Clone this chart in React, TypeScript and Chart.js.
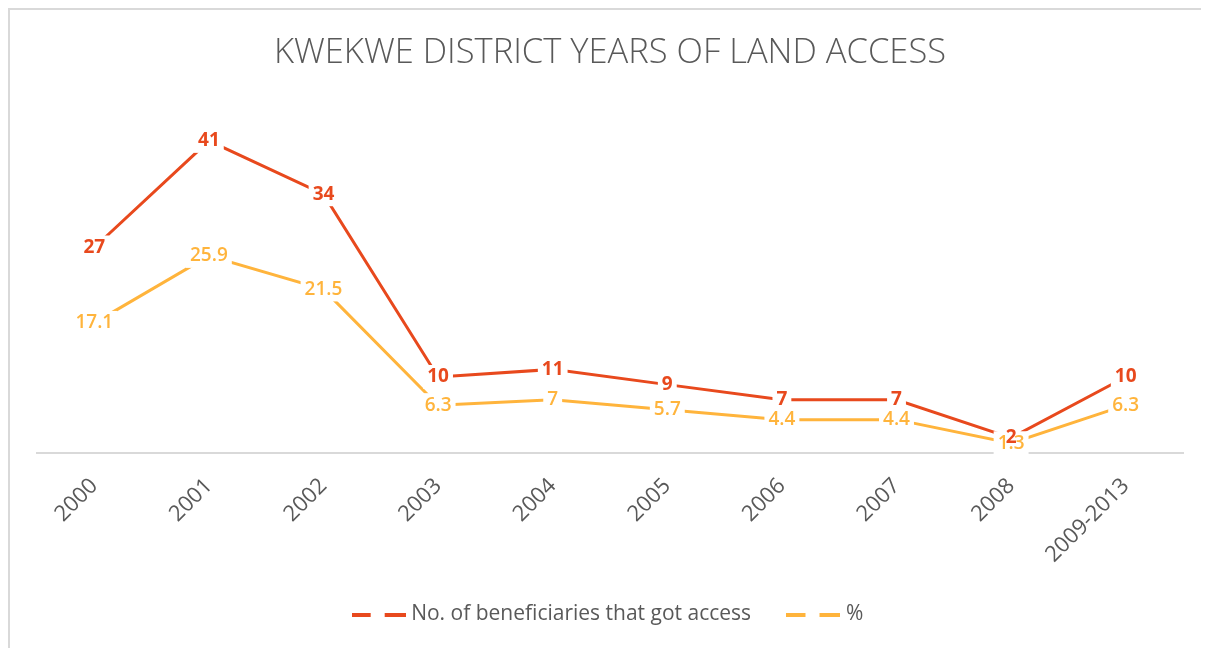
import React, { useEffect, useRef } from "react";
import { Chart, registerables } from "chart.js";

Chart.register(...registerables);

const categories = ["2000", "2001", "2002", "2003", "2004", "2005", "2006", "2007", "2008", "2009-2013"];
const beneficiaries = [27, 41, 34, 10, 11, 9, 7, 7, 2, 10];
const percent = [17.1, 25.9, 21.5, 6.3, 7, 5.7, 4.4, 4.4, 1.3, 6.3];

const RED = "#E8491D";
const ORANGE = "#FFB43C";
const GRAY = "#595959";
const FONT = "'Open Sans', sans-serif";

function legendIcon(color: string): HTMLCanvasElement {
  const c = document.createElement("canvas");
  c.width = 54;
  c.height = 4;
  const ctx = c.getContext("2d")!;
  ctx.fillStyle = color;
  ctx.fillRect(0, 0, 19, 4);
  ctx.fillRect(33, 0, 21, 4);
  return c;
}

const labelPlugin = {
  id: "valueLabels",
  afterDatasetsDraw(chart: any) {
    const ctx = chart.ctx;
    const fonts = ["bold 19px " + FONT, "600 19px " + FONT];
    ctx.save();
    ctx.textAlign = "center";
    ctx.textBaseline = "middle";
    chart.data.datasets.forEach((ds: any, di: number) => {
      const meta = chart.getDatasetMeta(di);
      ctx.font = fonts[di];
      meta.data.forEach((pt: any, i: number) => {
        const txt = String(ds.data[i]);
        const w = ctx.measureText(txt).width;
        ctx.fillStyle = "#ffffff";
        ctx.fillRect(pt.x - w / 2 - 4, pt.y - 12, w + 8, 24);
      });
    });
    for (let di = chart.data.datasets.length - 1; di >= 0; di--) {
      const ds = chart.data.datasets[di];
      const meta = chart.getDatasetMeta(di);
      ctx.font = fonts[di];
      meta.data.forEach((pt: any, i: number) => {
        ctx.fillStyle = ds.borderColor;
        ctx.fillText(String(ds.data[i]), pt.x, pt.y);
      });
    }
    ctx.restore();
  },
};

export default function App() {
  const ref = useRef<HTMLCanvasElement | null>(null);
  useEffect(() => {
    if (!ref.current) return;
    const chart = new Chart(ref.current, {
      type: "line",
      data: {
        labels: categories,
        datasets: [
          {
            label: "No. of beneficiaries that got access",
            data: beneficiaries,
            borderColor: RED,
            backgroundColor: RED,
            borderWidth: 3,
            pointRadius: 0,
            tension: 0,
            pointStyle: legendIcon(RED) as any,
          },
          {
            label: "%",
            data: percent,
            borderColor: ORANGE,
            backgroundColor: ORANGE,
            borderWidth: 3,
            pointRadius: 0,
            tension: 0,
            pointStyle: legendIcon(ORANGE) as any,
          },
        ],
      },
      options: {
        animation: false,
        responsive: true,
        maintainAspectRatio: false,
        layout: { padding: { left: 27, right: 25, top: 0, bottom: 13 } },
        plugins: {
          title: {
            display: true,
            text: "KWEKWE DISTRICT YEARS OF LAND ACCESS",
            color: GRAY,
            font: { family: FONT, size: 34.5, weight: "300" as any },
            padding: { top: 22, bottom: 37 },
          },
          legend: {
            position: "bottom",
            labels: {
              usePointStyle: true,
              pointStyleWidth: 44,
              color: GRAY,
              font: { family: FONT, size: 21 },
              padding: 24,
              generateLabels(chart: any) {
                const items = Chart.defaults.plugins.legend.labels.generateLabels(chart);
                if (items.length > 0) items[0].text = items[0].text + "   ";
                return items;
              },
            },
          },
          tooltip: { enabled: false },
        },
        scales: {
          x: {
            offset: true,
            grid: { display: false, offset: true },
            border: { color: "#D9D9D9", width: 2 },
            ticks: {
              color: GRAY,
              font: { family: FONT, size: 22 },
              minRotation: 45,
              maxRotation: 45,
              padding: 12,
            },
          },
          y: {
            display: false,
            min: 0,
            max: 45,
          },
        },
      },
      plugins: [labelPlugin],
    });
    return () => chart.destroy();
  }, []);
  return (
    <div
      style={{
        width: 1200,
        height: 640,
        borderTop: "2px solid #D9D9D9",
        borderLeft: "2px solid #D9D9D9",
        boxSizing: "border-box",
        background: "#fff",
      }}
    >
      <canvas ref={ref} />
    </div>
  );
}
